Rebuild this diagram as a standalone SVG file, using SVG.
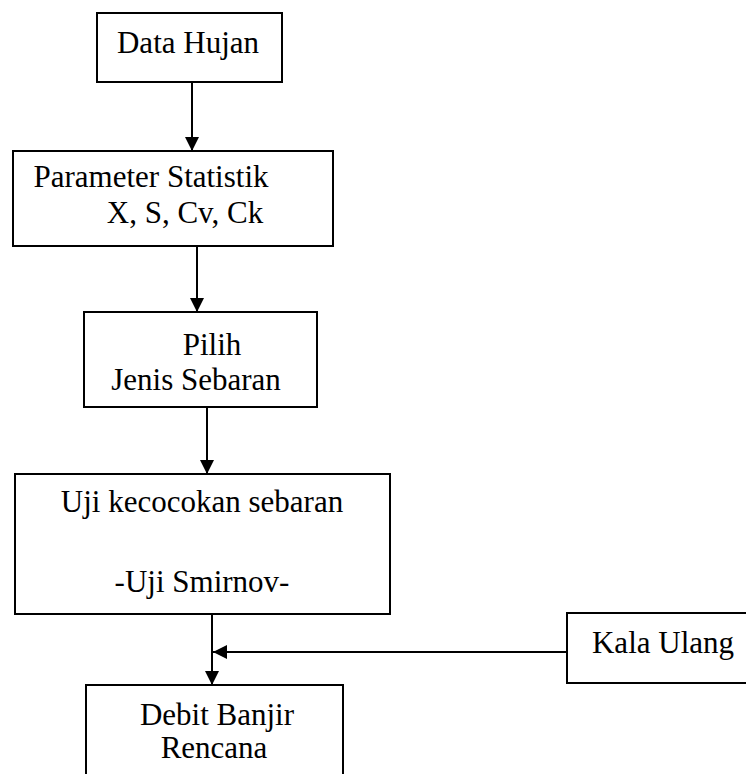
<svg xmlns="http://www.w3.org/2000/svg" width="746" height="774" viewBox="0 0 746 774">
<style>
.box{fill:#fff;stroke:#000;stroke-width:2}
.t{font-family:"Liberation Serif","Times New Roman",serif;font-size:31px;fill:#000;text-anchor:middle}
.c{stroke:#000;stroke-width:2;fill:none}
</style>
<defs>
<marker id="ah" markerUnits="userSpaceOnUse" markerWidth="14" markerHeight="16" viewBox="0 0 14 16" refX="14" refY="8" orient="auto">
<path d="M0,1 L14,8 L0,15 Z" fill="#000"/>
</marker>
</defs>
<rect width="746" height="774" fill="#fff"/>
<g id="connectors">
<line class="c" x1="192" y1="82" x2="192" y2="151" marker-end="url(#ah)"/>
<line class="c" x1="197" y1="246" x2="197" y2="312" marker-end="url(#ah)"/>
<line class="c" x1="207" y1="407" x2="207" y2="474" marker-end="url(#ah)"/>
<line class="c" x1="212" y1="614" x2="212" y2="685" marker-end="url(#ah)"/>
<line class="c" x1="567" y1="652" x2="213" y2="652" marker-end="url(#ah)"/>
</g>
<g id="data-hujan">
<rect class="box" x="97" y="13" width="185" height="69"/>
<text class="t" x="188" y="53">Data Hujan</text>
</g>
<g id="parameter-statistik">
<rect class="box" x="13" y="151" width="320" height="95"/>
<text class="t" x="151" y="187">Parameter Statistik</text>
<text class="t" x="185" y="223">X, S, Cv, Ck</text>
</g>
<g id="pilih-jenis-sebaran">
<rect class="box" x="84" y="312" width="233" height="95"/>
<text class="t" x="212" y="355">Pilih</text>
<text class="t" x="196" y="390">Jenis Sebaran</text>
</g>
<g id="uji-kecocokan">
<rect class="box" x="15" y="474" width="375" height="140"/>
<text class="t" x="202" y="512">Uji kecocokan sebaran</text>
<text class="t" x="202" y="592">-Uji Smirnov-</text>
</g>
<g id="kala-ulang">
<rect class="box" x="567" y="613" width="200" height="70"/>
<text class="t" x="663" y="653">Kala Ulang</text>
</g>
<g id="debit-banjir">
<rect class="box" x="86" y="685" width="257" height="110"/>
<text class="t" x="217" y="725">Debit Banjir</text>
<text class="t" x="214" y="758">Rencana</text>
</g>
</svg>
